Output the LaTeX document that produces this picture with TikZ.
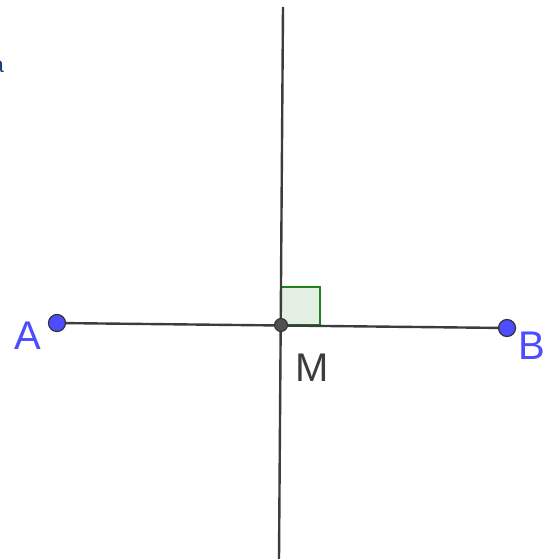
\documentclass[tikz,border=0pt]{standalone}
\usepackage{fontspec}
\setmainfont{Liberation Sans}
\definecolor{ggblue}{RGB}{77,77,255}
\definecolor{ggline}{RGB}{60,60,60}
\definecolor{gggreen}{RGB}{30,130,30}
\definecolor{ggfill}{RGB}{228,240,228}
\definecolor{ggdark}{RGB}{20,60,120}
\begin{document}
\begin{tikzpicture}[x=1pt,y=-1pt,
  seg/.style={draw=ggline,line width=2.4pt},
  ptblue/.style={circle,fill=ggblue,draw=black!80,line width=1.2pt,minimum size=17pt,inner sep=0pt},
  ptdark/.style={circle,fill=ggline!90,draw=black!80,line width=1pt,minimum size=13pt,inner sep=0pt},
  lblblue/.style={text=ggblue,font=\fontsize{40}{40}\selectfont,inner sep=0pt},
  lbldark/.style={text=ggline,font=\fontsize{40}{40}\selectfont,inner sep=0pt},
  rightang/.style={draw=gggreen,fill=ggfill,line width=2pt}]
\useasboundingbox (0,0) rectangle (555,559);
\begin{scope}
\clip (0,0) rectangle (555,559);
\node[text=ggdark,font=\fontsize{22}{22}\selectfont,inner sep=0pt,anchor=east] (frag) at (4,67) {a};
\end{scope}
\coordinate (A) at (57,323);
\coordinate (B) at (507,328);
\coordinate (M) at (281,325);
\coordinate (T) at (283,7);
\coordinate (D) at (279,559);
\coordinate (S1) at (320,325);
\coordinate (S2) at (320,287);
\coordinate (S3) at (281,287);
\draw[rightang] (M) -- (S1) -- (S2) -- (S3) -- cycle;
\draw[seg] (T) -- (D);
\draw[seg] (A) -- (B);
\node[ptblue] (pA) at (A) {};
\node[ptblue] (pB) at (B) {};
\node[ptdark] (pM) at (M) {};
\node[lblblue] (lA) at (28,336) {A};
\node[lblblue] (lB) at (532,346) {B};
\node[lbldark] (lM) at (312,368) {M};
\end{tikzpicture}
\end{document}
